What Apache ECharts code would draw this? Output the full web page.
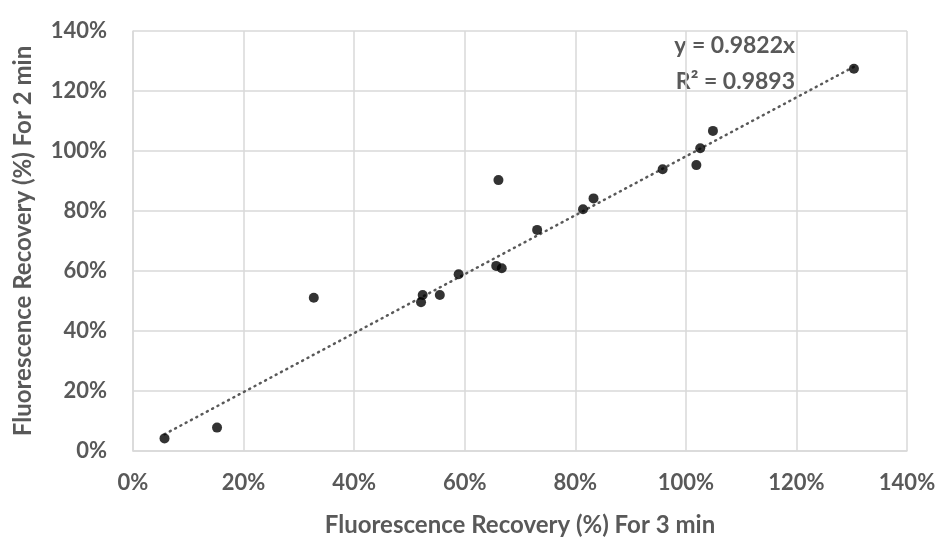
<!DOCTYPE html>
<html>
<head>
<meta charset="utf-8">
<script src="https://cdn.jsdelivr.net/npm/echarts@6/dist/echarts.min.js"></script>
<style>
  html, body { margin: 0; padding: 0; background: #fff; }
  #chart { width: 938px; height: 539px; }
</style>
</head>
<body>
<div id="chart"></div>
<script>
// Fluorescence recovery (%) — 3 min on x, 2 min on y
const recovery3min = [5.7, 15.2, 32.7, 52.1, 52.4, 55.5, 58.9, 65.7, 66.7, 66.1, 73.1, 81.4, 83.3, 95.8, 101.9, 102.6, 104.9, 130.4]
const recovery2min = [4.2, 7.8, 51.1, 49.6, 52.0, 52.0, 58.9, 61.7, 60.9, 90.3, 73.7, 80.6, 84.2, 93.9, 95.3, 100.9, 106.7, 127.4]
const axisTicks = [0, 20, 40, 60, 80, 100, 120, 140]

// linear trendline through origin
const slope = 0.9822
const rSquared = 0.9893

const points = recovery3min.map((x, i) => [x, recovery2min[i]])
const xMin = Math.min(...recovery3min)
const xMax = Math.max(...recovery3min)
const trend = [[xMin, slope * xMin], [xMax, slope * xMax]]

const FONT = 'Lato'
const GREY = '#595959'

const chart = echarts.init(document.getElementById('chart'))

const axisCommon = {
  type: 'value',
  min: axisTicks[0],
  max: axisTicks[axisTicks.length - 1],
  interval: axisTicks[1] - axisTicks[0],
  nameLocation: 'middle',
  nameTextStyle: { fontFamily: FONT, fontWeight: 'bold', fontSize: 24, color: GREY },
  axisLine: { show: true, lineStyle: { color: '#d9d9d9', width: 1.5 } },
  axisTick: { show: false },
  splitLine: { show: true, lineStyle: { color: '#d9d9d9', width: 1.5 } },
  axisLabel: {
    fontFamily: FONT, fontWeight: 'bold', fontSize: 22, color: GREY,
    formatter: '{value}%'
  }
}

chart.setOption({
  animation: false,
  grid: { left: 133, right: 31, top: 31, bottom: 88, outerBoundsMode: 'none' },
  xAxis: Object.assign({}, axisCommon, {
    name: 'Fluorescence Recovery (%) For 3 min',
    nameGap: 62,
    axisLabel: Object.assign({}, axisCommon.axisLabel, { margin: 21 })
  }),
  yAxis: Object.assign({}, axisCommon, {
    name: 'Fluorescence Recovery (%) For 2 min',
    nameGap: 98,
    axisLabel: Object.assign({}, axisCommon.axisLabel, { margin: 26 })
  }),
  graphic: [
    {
      type: 'text', right: 143, top: 34,
      style: { text: 'y = ' + slope + 'x', fontFamily: FONT, fontWeight: 'bold', fontSize: 23, fill: GREY, textAlign: 'right' }
    },
    {
      type: 'text', right: 143, top: 70,
      style: { text: 'R\u00b2 = ' + rSquared.toFixed(4), fontFamily: FONT, fontWeight: 'bold', fontSize: 23, fill: GREY, textAlign: 'right' }
    }
  ],
  series: [
    {
      type: 'line',
      data: trend,
      symbol: 'none',
      silent: true,
      z: 1,
      lineStyle: { color: GREY, width: 2.5, type: [1, 5], cap: 'round' }
    },
    {
      type: 'scatter',
      data: points,
      symbol: 'circle',
      symbolSize: 10,
      z: 2,
      itemStyle: { color: '#000' }
    }
  ]
})
</script>
</body>
</html>
